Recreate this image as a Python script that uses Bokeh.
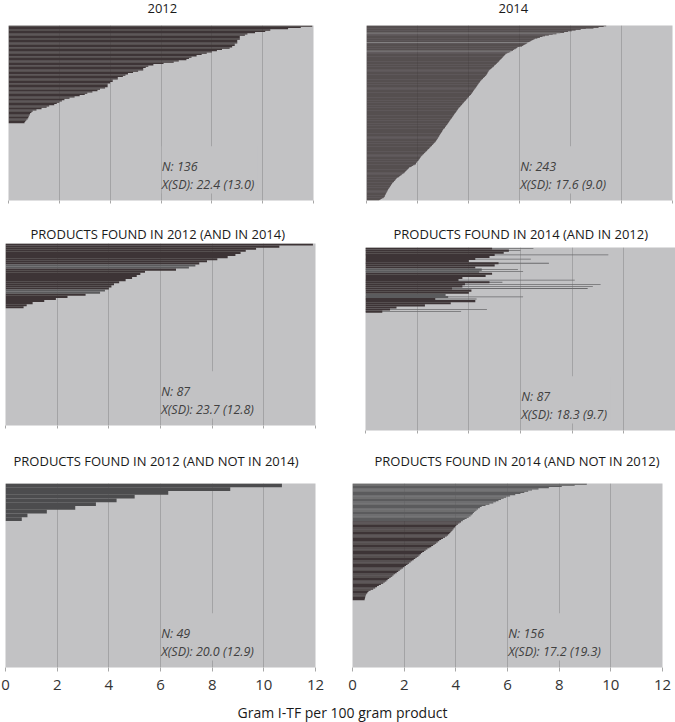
from bokeh.plotting import figure
from bokeh.models import Range1d, Label, FixedTicker, ColumnDataSource
from bokeh.layouts import column, row
from bokeh.embed import file_html
from bokeh.resources import INLINE

# ---------------- data ----------------
titles = ["2012", "2014",
          "PRODUCTS FOUND IN 2012 (AND IN 2014)", "PRODUCTS FOUND IN 2014 (AND IN 2012)",
          "PRODUCTS FOUND IN 2012 (AND NOT IN 2014)", "PRODUCTS FOUND IN 2014 (AND NOT IN 2012)"]
n_products = [136, 243, 87, 87, 49, 156]
means = [22.4, 17.6, 23.7, 18.3, 20.0, 17.2]
sds = [13.0, 9.0, 12.8, 9.7, 12.9, 19.3]
x_ticks = [0, 2, 4, 6, 8, 10, 12]
grid_ticks = [2, 4, 6, 8, 10]
x_label = "Gram I-TF per 100 gram product"

# gram I-TF per 100 g, products sorted from top row down (rows not listed are 0)
tf_2012 = [11.95, 11.5, 11.0, 10.3, 10.1, 9.7, 9.4, 9.3, 9.1, 9.1,
           9.1, 9.0, 9.0, 9.0, 8.9, 8.9, 8.8, 8.7, 8.4, 8.2,
           8.0, 7.8, 7.6, 7.4, 7.2, 7.1, 7.0, 6.7, 6.5, 6.1,
           5.7, 5.5, 5.4, 5.3, 5.3, 5.1, 4.9, 4.7, 4.6, 4.5,
           4.3, 4.3, 4.1, 4.1, 4.0, 3.9, 3.9, 3.9, 3.8, 3.6,
           3.5, 3.3, 3.1, 3.0, 2.8, 2.6, 2.4, 2.2, 2.1, 2.0,
           1.9, 1.8, 1.6, 1.5, 1.3, 1.1, 0.95, 0.9, 0.85, 0.83,
           0.8, 0.78, 0.75, 0.7, 0.66, 0.63]

tf_2014 = [9.4, 9.3, 9.1, 8.9, 8.6, 8.4, 8.2, 8.05, 7.9, 7.75,
           7.6, 7.45, 7.3, 7.15, 7.0, 6.9, 6.8, 6.7, 6.6, 6.55,
           6.5, 6.45, 6.4, 6.35, 6.3, 6.25, 6.2, 6.15, 6.1, 6.0,
           5.92, 5.88, 5.84, 5.78, 5.74, 5.7, 5.64, 5.58, 5.52, 5.46,
           5.44, 5.41, 5.38, 5.35, 5.33, 5.3, 5.28, 5.25, 5.22, 5.2,
           5.17, 5.14, 5.11, 5.08, 5.05, 5.02, 5.0, 4.97, 4.93, 4.9,
           4.86, 4.83, 4.8, 4.79, 4.77, 4.75, 4.74, 4.72, 4.7, 4.68,
           4.65, 4.62, 4.6, 4.57, 4.54, 4.51, 4.48, 4.46, 4.44, 4.42,
           4.4, 4.38, 4.36, 4.34, 4.32, 4.3, 4.28, 4.26, 4.24, 4.22,
           4.2, 4.18, 4.16, 4.14, 4.12, 4.1, 4.07, 4.05, 4.02, 4.0,
           3.97, 3.95, 3.92, 3.9, 3.87, 3.85, 3.82, 3.8, 3.77, 3.75,
           3.72, 3.7, 3.67, 3.65, 3.62, 3.6, 3.58, 3.56, 3.54, 3.52,
           3.5, 3.48, 3.46, 3.44, 3.42, 3.4, 3.38, 3.36, 3.34, 3.32,
           3.3, 3.28, 3.26, 3.24, 3.22, 3.2, 3.18, 3.16, 3.14, 3.12,
           3.1, 3.08, 3.06, 3.03, 3.0, 2.98, 2.98, 2.96, 2.94, 2.92,
           2.9, 2.88, 2.86, 2.85, 2.83, 2.81, 2.8, 2.78, 2.76, 2.74,
           2.72, 2.7, 2.67, 2.65, 2.62, 2.6, 2.57, 2.54, 2.51, 2.48,
           2.46, 2.43, 2.4, 2.38, 2.35, 2.32, 2.29, 2.26, 2.23, 2.2,
           2.18, 2.15, 2.13, 2.11, 2.09, 2.07, 2.05, 2.03, 2.0, 1.98,
           1.96, 1.94, 1.93, 1.88, 1.82, 1.77, 1.72, 1.67, 1.65, 1.62,
           1.59, 1.56, 1.53, 1.5, 1.48, 1.44, 1.4, 1.37, 1.33, 1.29,
           1.25, 1.2, 1.17, 1.15, 1.13, 1.11, 1.08, 1.05, 1.02, 1.0,
           0.98, 0.96, 0.95, 0.93, 0.91, 0.89, 0.87, 0.85, 0.83, 0.82,
           0.81, 0.79, 0.78, 0.76, 0.75, 0.73, 0.72, 0.71, 0.69, 0.66,
           0.6, 0.55, 0.5]
tf_2014_light_rows = [10, 23, 35]

tf_2012_paired = [11.9, 10.6, 9.7, 9.3, 9.1, 8.9, 8.6, 8.2, 7.8, 7.5,
                  7.35, 7.1, 6.6, 5.4, 5.22, 5.08, 4.9, 4.65, 4.4, 4.2,
                  4.1, 4.0, 3.85, 3.66, 3.1, 2.4, 1.95, 1.5, 1.05, 0.82, 0.7]
paired_grey_rows = [10, 11, 22, 23]

# same products (2012 order), 2014 values: main bar and thin extension line
tf_2014_paired = [4.9, 5.55, 5.35, 5.0, 4.8, 4.25, 4.0, 5.15, 5.0, 4.25,
                  4.5, 4.4, 4.9, 4.65, 3.75, 3.6, 4.8, 3.85, 3.75, 3.35,
                  4.1, 4.0, 3.1, 3.2, 2.7, 4.25, 3.3, 2.3, 1.2, 0.95, 0.65]
tf_2014_paired_line = [6.5, 6.0, 0, 9.4, 0, 6.4, 0, 7.1, 0, 0,
                       5.9, 6.1, 0, 0, 0, 8.1, 5.3, 9.1, 8.8, 8.6,
                       0, 0, 0, 6.1, 4.3, 0, 0, 0, 0, 4.7, 3.7]

tf_2012_only = [10.7, 8.7, 6.3, 5.0, 4.3, 3.5, 2.7, 1.6, 0.85, 0.63]

tf_2014_only = [9.07, 8.6, 8.1, 7.6, 7.2, 6.95, 6.8, 6.65, 6.5, 6.3,
                6.1, 5.95, 5.85, 5.75, 5.65, 5.55, 5.45, 5.3, 5.15, 5.0,
                4.93, 4.86, 4.8, 4.75, 4.7, 4.66, 4.62, 4.57, 4.5, 4.42,
                4.34, 4.27, 4.2, 4.14, 4.08, 4.02, 3.98, 3.95, 3.91, 3.87,
                3.83, 3.79, 3.75, 3.7, 3.65, 3.58, 3.5, 3.43, 3.36, 3.3,
                3.24, 3.18, 3.12, 3.05, 2.98, 2.9, 2.83, 2.77, 2.7, 2.65,
                2.6, 2.55, 2.49, 2.43, 2.37, 2.31, 2.25, 2.19, 2.13, 2.07,
                2.01, 1.95, 1.89, 1.83, 1.77, 1.71, 1.65, 1.59, 1.54, 1.48,
                1.42, 1.36, 1.31, 1.25, 1.19, 1.1, 1.02, 0.95, 0.88, 0.8,
                0.7, 0.62, 0.58, 0.55, 0.52, 0.5, 0.49, 0.48, 0.47]
tf_2014_only_grey_top = 32

# ---------------- style ----------------
DARK = "#3d3436"
GREY = "#5b5b5d"
GREY2 = "#4c4c4e"
LIGHTROW = "#8e8e90"
BG = "#c2c2c4"
GRID = "#a3a3a5"
FONT = "Open Sans"


def text_fig(w, h, text, x, y, size, bl=0, br=0, color="#1a1a1a"):
    # bl/br match the panel below, since layouts align the plot frames in a column
    f = figure(width=w, height=h, x_range=Range1d(0, 1), y_range=Range1d(0, 1),
               output_backend="svg", toolbar_location=None, min_border=0,
               min_border_left=bl, min_border_right=br,
               x_axis_location=None, y_axis_location=None)
    f.outline_line_color = None
    f.grid.visible = False
    f.add_layout(Label(x=x - bl, y=y, x_units="screen", y_units="screen", text=text,
                       text_align="left", text_baseline="middle", text_font=FONT,
                       text_font_size=size, text_color=color))
    return f


def make_panel(i, vals, colors, w, h, bl, br, bt, bb, bottom_axis=False, line_vals=None):
    n = n_products[i]
    p = figure(width=w, height=h, x_range=Range1d(0, 12), y_range=Range1d(n - 0.5, -0.5),
               output_backend="svg", toolbar_location=None, y_axis_location=None,
               min_border_left=bl, min_border_right=br, min_border_top=bt, min_border_bottom=bb)
    p.background_fill_color = BG
    p.border_fill_color = "white"
    p.outline_line_color = None
    p.ygrid.visible = False
    p.xgrid.ticker = FixedTicker(ticks=grid_ticks)
    p.xgrid.grid_line_color = GRID
    p.xgrid.grid_line_width = 1
    ax = p.xaxis[0]
    ax.ticker = FixedTicker(ticks=x_ticks)
    ax.axis_line_color = None
    ax.major_tick_in = 0
    ax.minor_tick_line_color = None
    ax.major_tick_line_color = "#a8a8a8"
    if bottom_axis:
        ax.major_tick_out = 4
        ax.major_label_standoff = 8
        ax.major_label_text_font = FONT
        ax.major_label_text_font_size = "15px"
        ax.major_label_text_color = "#333333"
    else:
        ax.major_tick_out = 3
        ax.major_label_standoff = 0
        ax.major_label_text_font_size = "1px"
        ax.major_label_text_alpha = 0

    if line_vals is not None:
        lsrc = ColumnDataSource(dict(y=list(range(len(line_vals))), v=line_vals))
        p.hbar(y="y", left=0, right="v", height=0.4, source=lsrc,
               fill_color="#6a6a6c", line_color=None)
    src = ColumnDataSource(dict(y=list(range(len(vals))), v=vals, c=colors))
    p.hbar(y="y", left=0, right="v", height=1.0, source=src,
           fill_color="c", line_color=None)

    p.add_layout(Label(x=6.03, y=7, x_units="data", y_units="screen",
                       text="N: %d\nX(SD): %.1f (%.1f)" % (n, means[i], sds[i]),
                       text_align="left", text_baseline="bottom",
                       text_font=FONT, text_font_size="12.5px", text_font_style="italic",
                       text_color="#404040", text_line_height=1.08,
                       background_fill_color=BG, padding=(0, 3, 12, 0)))
    return p


def colors_for(vals, grey=None, light=None, grey_top=0, grey_color=GREY):
    cols = []
    for k in range(len(vals)):
        c = DARK
        if k < grey_top:
            c = grey_color
        if grey and k in grey:
            c = GREY
        if light and k in light:
            c = LIGHTROW
        cols.append(c)
    return cols


p1 = make_panel(0, tf_2012, colors_for(tf_2012), 337, 198, 8, 24, 8, 15)
p2 = make_panel(1, tf_2014, colors_for(tf_2014, light=tf_2014_light_rows), 338, 198, 29, 3, 8, 15)
p3 = make_panel(2, tf_2012_paired, colors_for(tf_2012_paired, grey=paired_grey_rows),
                337, 197, 5, 22, 0, 15)
p4 = make_panel(3, tf_2014_paired, colors_for(tf_2014_paired, grey=paired_grey_rows),
                338, 193, 28, 0, 0, 10, line_vals=tf_2014_paired_line)
p5 = make_panel(4, tf_2012_only, colors_for(tf_2012_only, grey_top=len(tf_2012_only), grey_color=GREY2),
                337, 217, 5, 22, 0, 33, bottom_axis=True)
p6 = make_panel(5, tf_2014_only, colors_for(tf_2014_only, grey_top=tf_2014_only_grey_top),
                338, 217, 15, 13, 0, 33, bottom_axis=True)

t1 = text_fig(337, 17, titles[0], 147, 9, "13px", bl=8, br=24)
t2 = text_fig(338, 17, titles[1], 161, 9, "13px", bl=29, br=3)
t3 = text_fig(337, 28, titles[2], 30, 10, "13px", bl=5, br=22)
t4 = text_fig(338, 32, titles[3], 56, 14, "13px", bl=28, br=0)
t5 = text_fig(337, 43, titles[4], 13, 23, "13px", bl=5, br=22)
t6 = text_fig(338, 43, titles[5], 37, 23, "13px", bl=15, br=0)
tl = text_fig(675, 22, x_label, 237, 10, "14px")

layout = column(
    row(column(t1, p1), column(t2, p2)),
    row(column(t3, p3), column(t4, p4)),
    row(column(t5, p5), column(t6, p6)),
    tl,
)
open("out.html", "w").write(file_html(layout, INLINE))
